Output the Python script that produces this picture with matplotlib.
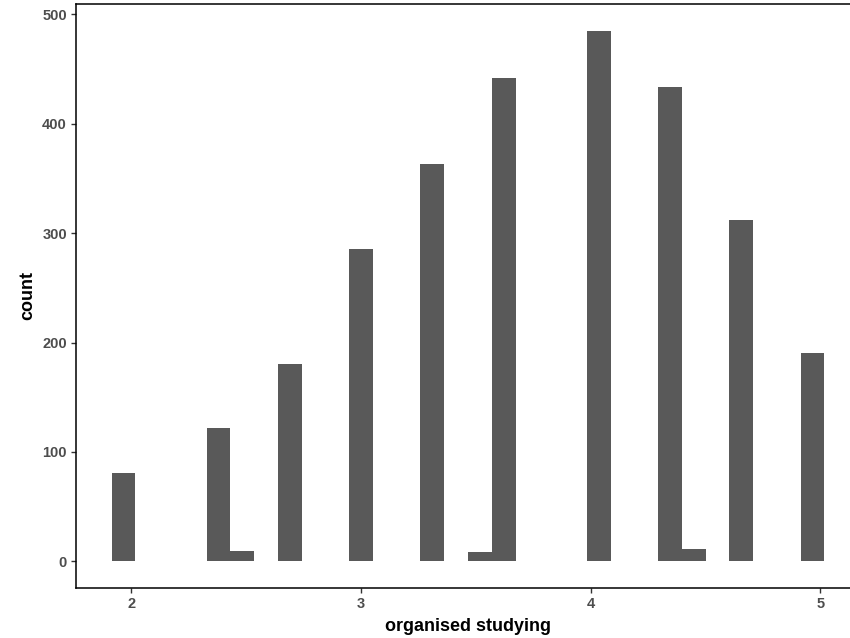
import numpy as np
import matplotlib
matplotlib.use('Agg')
import matplotlib.pyplot as plt

# ==================== data ====================
# distinct scores of "organised studying" and how many students have each
scores = [2.0, 2.333, 2.5, 2.667, 3.0, 3.333, 3.5, 3.667, 4.0, 4.333, 4.5, 4.667, 5.0]
counts = [81, 122, 10, 180, 285, 363, 9, 442, 485, 433, 11, 312, 190]
x_ticks = [2, 3, 4, 5]
y_ticks = [0, 100, 200, 300, 400, 500]
# ==============================================

plt.rcParams['font.family'] = ['Liberation Sans', 'DejaVu Sans']

# ggplot-style binning: 30 bins, right-closed
n_bins = 30
lo, hi = min(scores), max(scores)
w = (hi - lo) / (n_bins - 1)
boundary = w / 2
origin = boundary + np.floor((lo - boundary) / w) * w
edges = origin + np.arange(n_bins + 1) * w
idx = np.digitize(np.array(scores) - 1e-9, edges, right=True) - 1
hist = np.zeros(n_bins)
np.add.at(hist, idx, counts)
centers = (edges[:-1] + edges[1:]) / 2

fig = plt.figure(figsize=(8.5, 6.38), dpi=100)
ax = fig.add_axes([76 / 850, 50 / 638, 784 / 850, 584 / 638])

ax.bar(centers, hist, width=w, color='#595959', edgecolor='none')

span = edges[-1] - edges[0]
ax.set_xlim(edges[0] - 0.05 * span, edges[-1] + 0.05 * span)
ymax = hist.max()
ax.set_ylim(-0.05 * ymax, 1.05 * ymax)

ax.set_xticks(x_ticks)
ax.set_yticks(y_ticks)
ax.tick_params(length=3.5, width=1, color='#333333', labelcolor='#4d4d4d',
               labelsize=10.5, pad=3)
for lab in ax.get_xticklabels() + ax.get_yticklabels():
    lab.set_fontweight('bold')

for s in ax.spines.values():
    s.set_linewidth(1.1)
    s.set_color('black')

ax.set_xlabel('organised studying', fontsize=13, fontweight='bold', labelpad=5)
ax.set_ylabel('count', fontsize=13, fontweight='bold', labelpad=4)

plt.savefig('out.png', dpi=100)
